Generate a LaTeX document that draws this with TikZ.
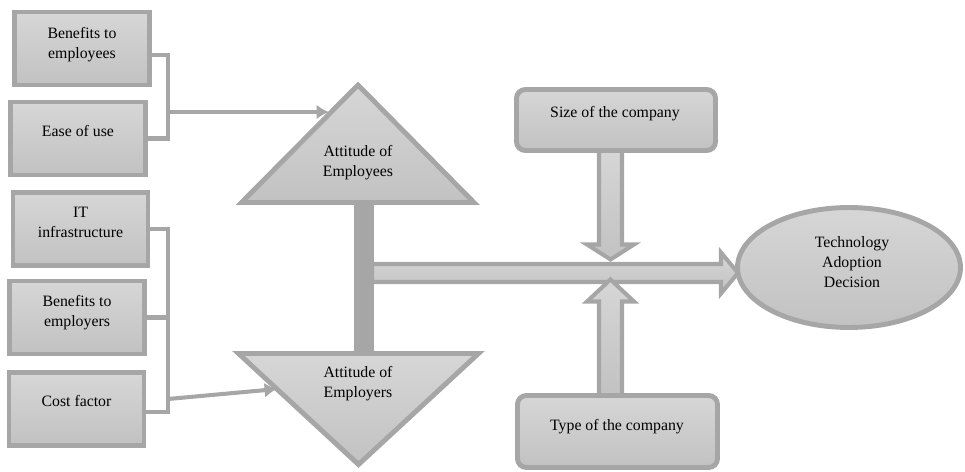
\documentclass[tikz,border=0pt]{standalone}
\usepackage{fontspec}
\setmainfont{Liberation Serif}
\usetikzlibrary{arrows.meta,calc,shapes.geometric}

\definecolor{rimgray}{gray}{0.65}
\definecolor{lightfill}{gray}{0.84}
\definecolor{darkfill}{gray}{0.76}

\tikzset{
	factor/.style={draw=rimgray, line width=2.8pt, top color=lightfill, bottom color=darkfill,
		minimum width=2.7cm, minimum height=1.46cm, inner sep=0pt},
	company/.style={factor, rounded corners=5pt, minimum width=4cm},
	attitude/.style={draw=rimgray, line width=2.8pt, top color=lightfill, bottom color=darkfill},
	lbl/.style={align=center, font=\fontsize{9}{11.34}\selectfont, inner sep=0pt},
	link/.style={draw=rimgray, line width=2.3pt},
	blk/.style={draw=rimgray, line width=2.3pt, top color=lightfill, bottom color=darkfill},
	tip/.style={-{Latex[length=7pt,width=8.5pt]}}
}

\begin{document}
\begin{tikzpicture}[x=0.02cm,y=-0.02cm]
		\useasboundingbox (0,0) rectangle (965,471);
		
		% corner points
		\coordinate (t1l) at (241.5,202.5);
		\coordinate (t1top) at (358,85);
		\coordinate (t1r) at (474,202.5);
		\coordinate (t2l) at (238.5,353.5);
		\coordinate (t2bot) at (358.5,464.5);
		\coordinate (t2r) at (478.5,353.5);
		\coordinate (t1base) at (364,202.5);
		\coordinate (t2base) at (364,353.5);
		\coordinate (barR) at (374,273);
		\coordinate (cross) at (610,273);
		\coordinate (jA) at (168,112);
		\coordinate (jB) at (168,412);
		\coordinate (jC) at (168,399);
		\coordinate (inA) at ($(t1l)!0.75!(t1top)$);
		\coordinate (inB) at ($(t2l)!0.32!(t2bot)$);
		
		% factor boxes
		\node[factor] (benEmp) at (82,48.5) {};
		\node[factor] (ease) at (78,138.5) {};
		\node[factor] (itInf) at (80.5,229) {};
		\node[factor] (benEmr) at (77,317.5) {};
		\node[factor] (cost) at (76.5,409) {};
		
		\node[lbl] (benEmpTxt) at (82,44.3) {Benefits to\\employees};
		\node[lbl] (easeTxt) at (78,130.6) {Ease of use};
		\node[lbl] (itInfTxt) at (80.5,222.8) {IT\\infrastructure};
		\node[lbl] (benEmrTxt) at (77,313) {Benefits to\\employers};
		\node[lbl] (costTxt) at (76.5,401.3) {Cost factor};
		
		% left connectors
		\draw[link] ([yshift=-3.5pt]benEmp.east) -| (jA) |- (ease.east);
		\draw[link,tip] (jA) -- (jA -| inA);
		
		\draw[link] (itInf.east) -| (jB) -- (jB -| cost.east);
		\draw[link] (benEmr.east) -- (benEmr.east -| jB);
		\draw[link,tip] (jC) -- (inB);
		
		% block arrows
		\draw[blk] (barR) ++(-2,-9) -- ++(349,0) -- ++(0,-11.5) -- ++(17,20.5) -- ++(-17,20.5)
			-- ++(0,-11.5) -- ++(-349,0) -- cycle;
		\draw[blk] (610,150.5) ++(-11,0) -- ++(0,94) -- ++(-12,0) -- ++(23.5,15) -- ++(23.5,-15)
			-- ++(-12,0) -- ++(0,-94) -- cycle;
		\draw[blk] (610,395.5) ++(-11,0) -- ++(0,-94) -- ++(-12,0) -- ++(23.5,-22) -- ++(23.5,22)
			-- ++(-12,0) -- ++(0,94) -- cycle;
		
		% bar between the two attitudes
		\draw[draw=rimgray, line width=0.4cm] (t1base) -- (t2base);
		
		\draw[attitude] (t1l) -- (t1top) -- (t1r) -- cycle;
		\draw[attitude] (t2l) -- (t2bot) -- (t2r) -- cycle;
		\node[lbl] (attEmp) at (358,162.8) {Attitude of\\Employees};
		\node[lbl] (attEmr) at (358,383.8) {Attitude of\\Employers};
		
		% company boxes
		\node[company, minimum height=1.22cm, minimum width=3.98cm] (size) at (616,120) {};
		\node[company, minimum height=1.44cm] (type) at (617.5,431.5) {};
		\node[lbl] (sizeTxt) at (615,113.8) {Size of the company};
		\node[lbl] (typeTxt) at (617,426.3) {Type of the company};
		
		% decision
		\node[ellipse, draw=rimgray, line width=2.8pt, top color=lightfill, bottom color=darkfill,
			minimum width=4.46cm, minimum height=2.4cm, inner sep=0pt] (tech) at (849,267.5) {};
		\node[lbl] (techTxt) at (852,261.8) {Technology\\Adoption\\Decision};
		
\end{tikzpicture}
\end{document}
